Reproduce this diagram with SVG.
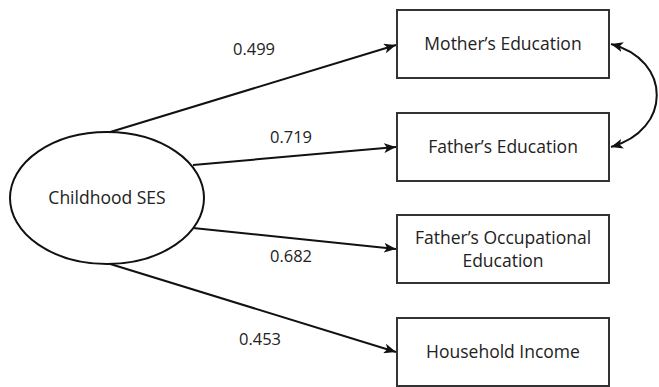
<svg xmlns="http://www.w3.org/2000/svg" width="659" height="387" viewBox="0 0 659 387">
<style>
.box{fill:#fff;stroke:#333;stroke-width:2}
.lbl{font-family:"Open Sans","Liberation Sans",sans-serif;font-size:17.5px;fill:#222;text-anchor:middle}
.num{font-family:"Open Sans","Liberation Sans",sans-serif;font-size:16.5px;fill:#222;text-anchor:middle}
.con{fill:none;stroke:#111;stroke-width:2}
</style>
<defs>
<marker id="ah" viewBox="0 0 12 10" refX="12" refY="5" markerWidth="12" markerHeight="10" markerUnits="userSpaceOnUse" orient="auto-start-reverse">
<path d="M0,0 L12,5 L0,10 L3,5 z" fill="#111"/>
</marker>
</defs>
<rect width="659" height="387" fill="#fff"/>
<g id="connectors">
<line class="con" x1="107" y1="133" x2="396" y2="45" marker-end="url(#ah)"/>
<line class="con" x1="193" y1="165" x2="396" y2="147" marker-end="url(#ah)"/>
<line class="con" x1="193" y1="228" x2="396" y2="249" marker-end="url(#ah)"/>
<line class="con" x1="107" y1="263" x2="396" y2="352" marker-end="url(#ah)"/>
<path class="con" d="M611,44 C672,60 672,130 611,147" marker-start="url(#ah)" marker-end="url(#ah)"/>
<text class="num" x="254" y="55">0.499</text>
<text class="num" x="291" y="143">0.719</text>
<text class="num" x="291" y="262">0.682</text>
<text class="num" x="260" y="345">0.453</text>
</g>
<g id="ses">
<ellipse cx="107" cy="198" rx="97" ry="66" fill="#fff" stroke="#111" stroke-width="2"/>
<text class="lbl" x="107" y="204">Childhood SES</text>
</g>
<g id="mother">
<rect class="box" x="397" y="10" width="212" height="68"/>
<text class="lbl" x="503" y="50">Mother’s Education</text>
</g>
<g id="father">
<rect class="box" x="397" y="113" width="212" height="68"/>
<text class="lbl" x="503" y="153">Father’s Education</text>
</g>
<g id="occupation">
<rect class="box" x="397" y="215" width="212" height="68"/>
<text class="lbl" x="503" y="244">Father’s Occupational</text>
<text class="lbl" x="503" y="267">Education</text>
</g>
<g id="income">
<rect class="box" x="397" y="318" width="212" height="68"/>
<text class="lbl" x="503" y="358">Household Income</text>
</g>
</svg>
